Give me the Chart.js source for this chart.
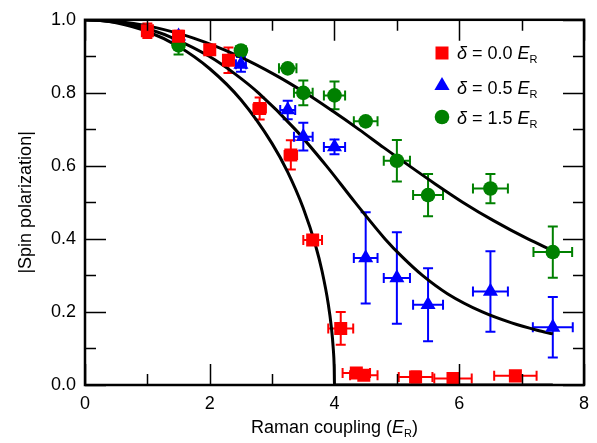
<!DOCTYPE html>
<html>
<head>
<meta charset="utf-8">
<script src="https://cdn.jsdelivr.net/npm/chart.js@4.4.0/dist/chart.umd.min.js"></script>
<style>
  html, body { margin: 0; padding: 0; background: #fff; }
  #wrap { position: relative; width: 597px; height: 443px; }
</style>
</head>
<body>
<div id="wrap"><canvas id="spinChart" width="597" height="443"></canvas></div>
<script>
(function () {
  "use strict";

  var FONT = '"Liberation Sans", Arial, Helvetica, sans-serif';
  var FONT_SIZE = 18;
  var RED = "#ff0000";
  var BLUE = "#0000ff";
  var GREEN = "#008000";

  // ── measured points: delta = 0.0 E_R ─────────────────────
  var redX = [1.0, 1.5, 2.0, 2.3, 2.8, 3.3, 3.65, 4.1, 4.35, 4.47, 5.3, 5.9, 6.9];
  var redY = [0.97, 0.955, 0.918, 0.889, 0.757, 0.63, 0.397, 0.155, 0.033, 0.027, 0.022, 0.018, 0.025];
  var redXErr = [0.03, 0.04, 0.05, 0.06, 0.1, 0.1, 0.15, 0.2, 0.22, 0.22, 0.27, 0.3, 0.34];
  var redYErr = [0.02, 0.015, 0.01, 0.035, 0.03, 0.04, 0.012, 0.045, 0.008, 0.01, 0.015, 0.008, 0.01];

  // ── measured points: delta = 0.5 E_R ─────────────────────
  var blueX = [1.5, 2.5, 3.25, 3.5, 4.0, 4.5, 5.0, 5.5, 6.5, 7.5];
  var blueY = [0.955, 0.878, 0.753, 0.68, 0.652, 0.348, 0.293, 0.22, 0.256, 0.158];
  var blueXErr = [0.05, 0.08, 0.12, 0.15, 0.17, 0.19, 0.21, 0.24, 0.28, 0.32];
  var blueYErr = [0.01, 0.02, 0.025, 0.038, 0.02, 0.125, 0.125, 0.1, 0.11, 0.083];

  // ── measured points: delta = 1.5 E_R ─────────────────────
  var greenX = [1.5, 2.5, 3.25, 3.5, 4.0, 4.5, 5.0, 5.5, 6.5, 7.5];
  var greenY = [0.93, 0.916, 0.867, 0.8, 0.793, 0.722, 0.614, 0.52, 0.538, 0.364];
  var greenXErr = [0.05, 0.08, 0.14, 0.15, 0.17, 0.19, 0.21, 0.24, 0.28, 0.31];
  var greenYErr = [0.025, 0.01, 0.01, 0.034, 0.038, 0.01, 0.057, 0.058, 0.04, 0.07];

  // ── single-particle ground-state curves ──────────────────
  var curve0X = [0, 0.25, 0.5, 1, 1.5, 2, 2.5, 3, 3.25, 3.5, 3.7, 3.8, 3.9, 3.95, 3.98, 3.995, 4.0, 7.5];
  var curve0Y = [1, 0.998, 0.992, 0.968, 0.927, 0.866, 0.781, 0.661, 0.583, 0.484, 0.38, 0.312, 0.222, 0.158, 0.1, 0.05, 0, 0];
  var curve05X = [0, 0.2, 0.64, 1.1, 1.41, 1.99, 2.42, 2.78, 3.37, 3.87, 4.33, 4.81, 5.09, 5.41, 5.81, 6.37, 6.84, 7.25, 7.5];
  var curve05Y = [1, 0.999, 0.99, 0.97, 0.95, 0.9, 0.85, 0.8, 0.7, 0.6, 0.5, 0.4, 0.35, 0.3, 0.25, 0.2, 0.17, 0.15, 0.14];
  var curve15X = [0, 0.25, 0.78, 1.1, 1.74, 2.47, 3.04, 3.53, 3.97, 4.39, 4.79, 5.2, 5.62, 6.06, 6.55, 7.1, 7.5];
  var curve15Y = [1, 0.999, 0.99, 0.98, 0.95, 0.9, 0.85, 0.8, 0.75, 0.7, 0.65, 0.6, 0.55, 0.5, 0.45, 0.4, 0.368];

  // ── axes ─────────────────────────────────────────────────
  var xMajor = [0, 2, 4, 6, 8];
  var xMinor = [1, 3, 5, 7];
  var yMajor = [0, 0.2, 0.4, 0.6, 0.8, 1.0];
  var yMinor = [0.1, 0.3, 0.5, 0.7, 0.9];

  var legendRows = [
    { delta: "0.0", color: RED, shape: "rect" },
    { delta: "0.5", color: BLUE, shape: "triangle" },
    { delta: "1.5", color: GREEN, shape: "circle" }
  ];

  function pts(xs, ys) {
    return xs.map(function (x, i) { return { x: x, y: ys[i] }; });
  }

  function markerSet(label, xs, ys, xe, ye, color, style, radius) {
    return {
      label: label,
      data: pts(xs, ys),
      xErr: xe,
      yErr: ye,
      pointStyle: style,
      pointRadius: radius,
      backgroundColor: color,
      borderColor: color,
      borderWidth: 0,
      showLine: false
    };
  }

  function curveSet(xs, ys) {
    return {
      data: pts(xs, ys),
      showLine: true,
      borderColor: "#000",
      borderWidth: 3,
      pointRadius: 0,
      cubicInterpolationMode: "monotone",
      fill: false
    };
  }

  // text runs with italic / subscript pieces
  function partFont(p, size) {
    return (p.italic ? "italic " : "") + (p.sub ? Math.round(size * 0.62) : size) + "px " + FONT;
  }

  function richWidth(ctx, parts, size) {
    var w = 0;
    parts.forEach(function (p) {
      ctx.font = partFont(p, size);
      w += ctx.measureText(p.t).width;
    });
    return w;
  }

  function drawRich(ctx, parts, x, y, size) {
    ctx.textAlign = "left";
    ctx.textBaseline = "alphabetic";
    parts.forEach(function (p) {
      ctx.font = partFont(p, size);
      ctx.fillText(p.t, x, p.sub ? y + 4 : y);
      x += ctx.measureText(p.t).width;
    });
  }

  // ── error bars under the markers ─────────────────────────
  var errorBars = {
    id: "errorBars",
    beforeDatasetsDraw: function (chart) {
      var ctx = chart.ctx, xs = chart.scales.x, ys = chart.scales.y;
      var CAP = 5;
      chart.data.datasets.forEach(function (ds) {
        if (!ds.xErr) return;
        ctx.save();
        ctx.strokeStyle = ds.borderColor;
        ctx.lineWidth = 2;
        ds.data.forEach(function (p, j) {
          var px = xs.getPixelForValue(p.x), py = ys.getPixelForValue(p.y);
          var x0 = xs.getPixelForValue(p.x - ds.xErr[j]), x1 = xs.getPixelForValue(p.x + ds.xErr[j]);
          var y0 = ys.getPixelForValue(p.y - ds.yErr[j]), y1 = ys.getPixelForValue(p.y + ds.yErr[j]);
          ctx.beginPath();
          ctx.moveTo(x0, py); ctx.lineTo(x1, py);
          ctx.moveTo(x0, py - CAP); ctx.lineTo(x0, py + CAP);
          ctx.moveTo(x1, py - CAP); ctx.lineTo(x1, py + CAP);
          ctx.moveTo(px, y0); ctx.lineTo(px, y1);
          ctx.moveTo(px - CAP, y0); ctx.lineTo(px + CAP, y0);
          ctx.moveTo(px - CAP, y1); ctx.lineTo(px + CAP, y1);
          ctx.stroke();
        });
        ctx.restore();
      });
    }
  };

  // ── box frame, inward ticks, titles, legend ──────────────
  var decorations = {
    id: "decorations",
    afterDraw: function (chart) {
      var ctx = chart.ctx, a = chart.chartArea;
      var xs = chart.scales.x, ys = chart.scales.y;
      ctx.save();
      ctx.strokeStyle = "#000";

      ctx.lineWidth = 1.5;
      ctx.beginPath();
      function xTick(v, len) {
        var px = Math.round(xs.getPixelForValue(v)) + 0.5;
        ctx.moveTo(px, a.bottom); ctx.lineTo(px, a.bottom - len);
        ctx.moveTo(px, a.top); ctx.lineTo(px, a.top + len);
      }
      function yTick(v, len) {
        var py = Math.round(ys.getPixelForValue(v)) + 0.5;
        ctx.moveTo(a.left, py); ctx.lineTo(a.left + len, py);
        ctx.moveTo(a.right, py); ctx.lineTo(a.right - len, py);
      }
      xMajor.forEach(function (v) { xTick(v, 21); });
      xMinor.forEach(function (v) { xTick(v, 11); });
      yMajor.forEach(function (v) { yTick(v, 21); });
      yMinor.forEach(function (v) { yTick(v, 11); });
      ctx.stroke();

      ctx.lineWidth = 2.5;
      ctx.strokeRect(a.left, a.top, a.right - a.left, a.bottom - a.top);

      ctx.fillStyle = "#000";

      // x title
      var xParts = [{ t: "Raman coupling (" }, { t: "E", italic: true }, { t: "R", sub: true }, { t: ")" }];
      var w = richWidth(ctx, xParts, FONT_SIZE);
      drawRich(ctx, xParts, (a.left + a.right) / 2 - w / 2, 433, FONT_SIZE);

      // y title
      ctx.save();
      ctx.translate(31, (a.top + a.bottom) / 2);
      ctx.rotate(-Math.PI / 2);
      ctx.font = FONT_SIZE + "px " + FONT;
      ctx.textAlign = "center";
      ctx.textBaseline = "alphabetic";
      ctx.fillText("|Spin polarization|", 0, 0);
      ctx.restore();

      // legend
      var rowMarkY = [53, 84, 117];
      var rowTextY = [59, 94, 124];
      legendRows.forEach(function (r, i) {
        var cx = 442, cy = rowMarkY[i];
        ctx.fillStyle = r.color;
        ctx.beginPath();
        if (r.shape === "rect") {
          ctx.rect(cx - 6.5, cy - 6.5, 13, 13);
        } else if (r.shape === "triangle") {
          ctx.moveTo(cx, cy - 7);
          ctx.lineTo(cx + 7.6, cy + 6);
          ctx.lineTo(cx - 7.6, cy + 6);
          ctx.closePath();
        } else {
          ctx.arc(cx, cy, 7.3, 0, Math.PI * 2);
        }
        ctx.fill();
        ctx.fillStyle = "#000";
        drawRich(ctx, [
          { t: "\u03b4", italic: true },
          { t: " = " + r.delta + " " },
          { t: "E", italic: true },
          { t: "R", sub: true }
        ], 457, rowTextY[i], FONT_SIZE);
      });

      ctx.restore();
    }
  };

  function initChart() {
    var canvas = document.getElementById("spinChart");
    new Chart(canvas.getContext("2d"), {
      type: "scatter",
      data: {
        datasets: [
          markerSet("\u03b4 = 0.0", redX, redY, redXErr, redYErr, RED, "rect", 9.2),
          markerSet("\u03b4 = 0.5", blueX, blueY, blueXErr, blueYErr, BLUE, "triangle", 8.7),
          markerSet("\u03b4 = 1.5", greenX, greenY, greenXErr, greenYErr, GREEN, "circle", 7.3),
          curveSet(curve0X, curve0Y),
          curveSet(curve05X, curve05Y),
          curveSet(curve15X, curve15Y)
        ]
      },
      options: {
        responsive: false,
        animation: false,
        events: [],
        layout: { padding: { top: 17, right: 11, left: 0, bottom: 0 } },
        plugins: { legend: { display: false }, tooltip: { enabled: false } },
        scales: {
          x: {
            type: "linear",
            min: 0,
            max: 8,
            afterFit: function (s) { s.height = 58; },
            afterBuildTicks: function (s) { s.ticks = xMajor.map(function (v) { return { value: v }; }); },
            grid: { display: false, drawTicks: false },
            border: { display: false },
            ticks: { color: "#000", padding: 8, font: { family: FONT, size: FONT_SIZE } }
          },
          y: {
            type: "linear",
            min: 0,
            max: 1,
            afterFit: function (s) { s.width = 85; },
            afterBuildTicks: function (s) { s.ticks = yMajor.map(function (v) { return { value: v }; }); },
            grid: { display: false, drawTicks: false },
            border: { display: false },
            ticks: {
              color: "#000",
              padding: 9,
              font: { family: FONT, size: FONT_SIZE },
              callback: function (v) { return Number(v).toFixed(1); }
            }
          }
        }
      },
      plugins: [errorBars, decorations]
    });
  }

  initChart();
})();
</script>
</body>
</html>
